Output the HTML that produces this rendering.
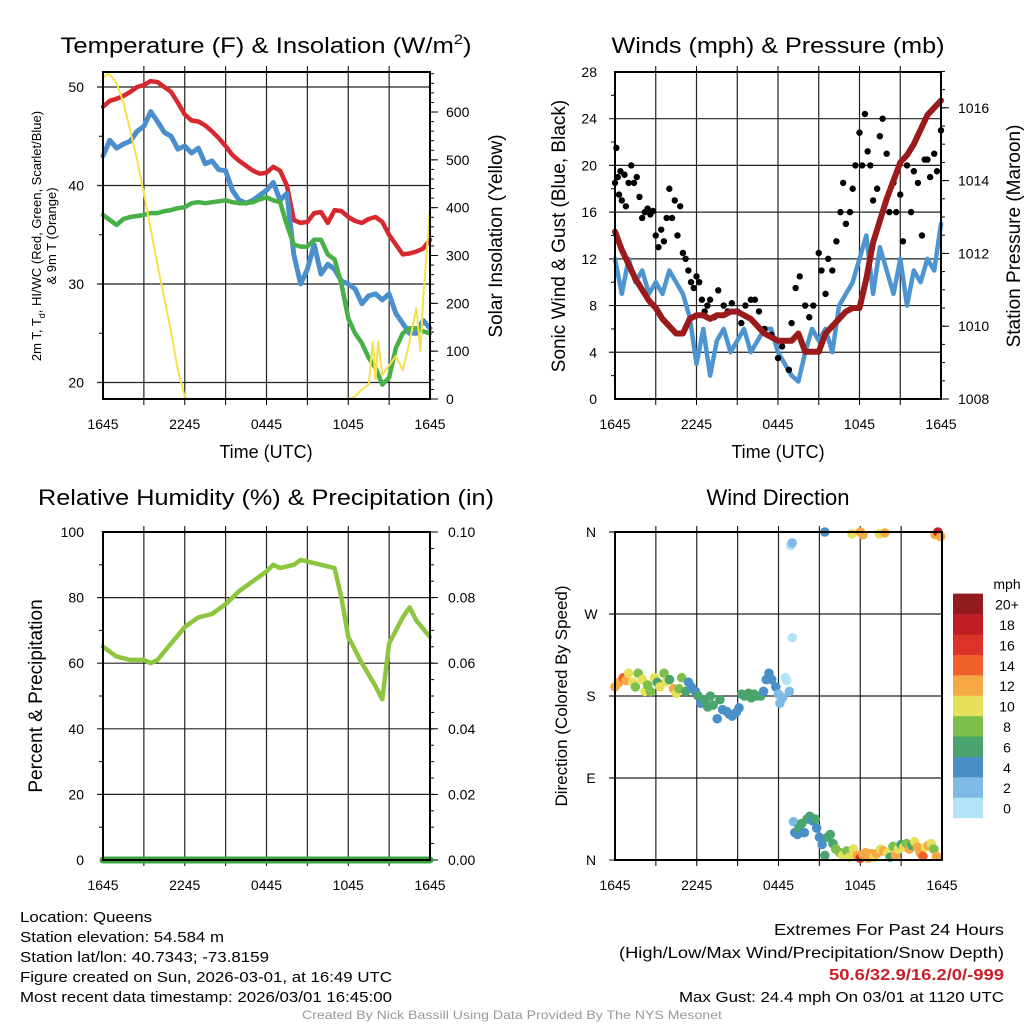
<!DOCTYPE html>
<html><head><meta charset="utf-8"><style>
html,body{margin:0;padding:0;background:#fff}
svg{display:block;font-family:"Liberation Sans",sans-serif}
</style></head><body>
<svg id="s" width="1024" height="1024" viewBox="0 0 1024 1024"></svg>
<script>
// ---------- DATA ----------
const xTickLabels = ["1645","2245","0445","1045","1645"];
const tempHours = [0,0.5,1,1.5,2,2.5,3,3.5,4,4.5,5,5.5,6,6.5,7,7.5,8,8.5,9,9.5,10,10.5,11,11.5,12,12.5,13,13.5,14,14.5,15,15.5,16,16.5,17,17.5,18,18.5,19,19.5,20,20.5,21,21.5,22,22.5,23,23.5,24];
const redTemp = [48,48.6,48.8,49.1,49.5,50,50.2,50.6,50.5,50,49.5,48.4,47.2,46.6,46.5,46.1,45.5,44.8,44,43.1,42.5,42,41.5,41.2,41.3,41.9,41.5,40,36.5,36.2,36.3,37.2,37.3,36.2,37.5,37.4,36.8,36.4,36.2,36.6,36.8,36.3,35,34,33,33.1,33.3,33.6,34.5];
const blueTemp = [43,44.6,43.8,44.2,44.5,45.5,46,47.5,46.5,45.4,45,43.7,44,43.3,43.8,42.2,42.5,41.6,41.5,39.5,38.5,38.2,38.5,39,39.5,40.3,38.5,39.2,33,30,31.5,34,31,32,31.5,30.3,30,29.5,28,28.8,29,28.4,29,27,26,25,25,26.3,25.5];
const greenTemp = [37,36.5,36,36.6,36.8,36.9,37,37.2,37.2,37.4,37.5,37.7,37.8,38.2,38.3,38.2,38.3,38.4,38.5,38.3,38.2,38.2,38.3,38.6,38.8,38.5,38.3,36,34,33.8,33.8,34.5,34.5,33,32.5,30,26.5,25,24,22.5,21.5,19.8,20.5,23.5,25,25.5,25.5,25.2,25];
const solarHours = [0,0.3,0.6,1,1.5,2,2.5,3,3.5,4,4.5,5,5.5,6,6.2,18,18.5,19,19.5,19.8,20,20.2,20.5,21,21.5,22,22.5,23,23.3,23.5,24];
const solar = [670,680,675,660,620,560,500,430,355,280,210,140,60,5,0,0,5,20,30,120,40,120,50,70,90,60,120,190,100,210,400];

const windHours = [0,0.5,1,1.5,2,2.5,3,3.5,4,4.5,5,5.5,6,6.5,7,7.5,8,8.5,9,9.5,10,10.5,11,11.5,12,12.5,13,13.5,14,14.5,15,15.5,16,16.5,17,17.5,18,18.5,19,19.5,20,20.5,21,21.5,22,22.5,23,23.5,24];
const sonicWind = [12,9,12,10,11,9,10,9,11,10,9,7,3,6,2,5,6,4,5,6,4,5,6,6,4,3,2,1.5,4,6,5,6,4,8,9,10,12,14,9,13,11,9,12,8,11,10,12,11,15];
const pressure = [1012.6,1012.1,1011.7,1011.3,1011,1010.7,1010.5,1010.2,1010,1009.8,1009.8,1010.2,1010.3,1010.3,1010.2,1010.3,1010.3,1010.4,1010.4,1010.3,1010.2,1010,1009.8,1009.7,1009.6,1009.6,1009.6,1009.8,1009.3,1009.3,1009.3,1009.8,1010,1010.2,1010.4,1010.5,1010.5,1011.3,1012.3,1012.9,1013.5,1014,1014.5,1014.7,1015,1015.4,1015.8,1016,1016.2];
const gustHours = [0,0.1,0.2,0.3,0.4,0.5,0.7,0.8,1,1.2,1.4,1.6,1.8,2,2.2,2.4,2.6,2.8,3,3.2,3.4,3.6,3.8,4,4.2,4.4,4.6,4.8,5,5.2,5.4,5.6,5.8,6,6.2,6.4,6.6,6.8,7,7.3,7.6,8,8.3,8.6,9,9.3,9.6,10,10.3,10.6,11,11.5,12,12.3,12.8,13,13.3,13.6,14,14.3,14.6,15,15.2,15.5,15.7,16,16.3,16.6,16.8,17,17.3,17.5,17.7,18,18.2,18.4,18.6,18.8,19,19.3,19.5,19.7,20,20.2,20.5,20.7,21,21.2,21.5,21.8,22,22.3,22.6,22.8,23,23.2,23.5,23.7,24];
const gusts = [18.5,21.5,19,17.5,19.5,17,19.2,16.5,18.5,20,18.5,19,17.3,15.5,16,16.3,15.8,16.1,14,13,14.5,13.5,15.5,18,15.5,17,14,16.5,12.5,12,11,10,9.5,10.5,10,8.5,7.5,8,8.5,7,9.3,8,7.5,8.2,7.5,6.5,8,8.5,8.5,7.5,6,5.5,3.5,4.5,2.5,6.5,9.5,10.5,8,7,8,12.5,11,9,12,11,13.5,16,18.5,15,16,18,20,22.8,20,24.4,21.2,20,17,18,22.5,24,21,16,18.5,16,17.5,13.5,20,16,19.5,18.5,14,20.5,20.5,19,21,19.5,23];

const rhHours = [0,1,2,3,3.5,4,5,6,7,8,9,10,11,12,12.5,13,14,14.5,15,16,17,17.5,18,19,20,20.5,21,22,22.5,23,24];
const humidity = [65,62,61,61,60,61,66,71,74,75,78,82,85,88,90,89,90,91.5,91,90,89,80,68,60,53,49,66,74,77,73,68];
const precip = [0,0];
const precipHours = [0,24];

const dirHours = [0,0.3,0.6,0.8,1,1.3,1.5,1.7,2,2.2,2.4,2.6,2.9,3.1,3.3,3.6,3.8,4,4.3,4.5,4.7,4.9,5.2,5.4,5.6,5.9,6.1,6.3,6.6,6.8,7,7.2,7.5,7.7,7.9,8.2,8.4,8.6,8.9,9.1,9.3,9.5,9.8,10,10.2,10.4,10.7,10.9,11.1,11.3,11.5,11.8,12,12.1,12.3,12.5,12.6,12.8,12.9,13,13,13.1,13.2,13.4,13.5,13.7,13.9,14.1,14.3,14.5,14.7,14.8,15,15.2,15.4,15.6,15.8,16,16.2,16.5,16.7,17,17.2,17.5,17.8,18,18.2,18.4,18.6,18.8,19,19.2,19.5,19.7,20,20.2,20.4,20.6,20.8,21,21.2,21.4,21.6,21.8,22,22.2,22.4,22.6,22.8,23,23.2,23.4,23.6,15.4,17.4,18,18.2,19.4,19.8,23.5,23.7,23.9];
const dirDeg = [190,195,200,197,205,195,190,205,198,185,192,185,200,195,190,205,196,198,188,183,188,200,185,195,190,185,180,172,175,168,180,170,155,176,165,163,160,158,162,167,182,180,183,178,182,180,180,185,198,205,198,190,182,172,178,200,197,185,345,348,244,42,30,28,35,40,30,45,48,43,45,35,25,17,5,25,28,18,12,8,5,10,3,12,5,2,6,8,2,7,3,7,12,10,8,3,15,5,12,17,14,18,12,16,20,14,8,4,14,16,18,12,4,360,358,360,357,358,359,357,360,355];
const dirSpeed = [12,13,14,12,10,11,9,8,10,10,9,8,10,7,10,8,10,6,13,10,9,8,6,5,5,4,7,4,6,6,6,7,4,6,5,4,4,4,4,4,6,6,6,6,7,6,6,4,4,4,4,4,3,2,2,1,1,2,1,2,1,2,4,4,6,6,5,6,6,4,6,5,4,4,6,6,6,7,8,9,10,8,11,10,13,16,12,13,12,13,10,12,10,12,10,7,8,12,10,7,11,8,12,7,10,12,12,14,10,12,10,9,12,4,10,12,12,10,12,12,18,13];
const speedLabels = ["0","2","4","6","8","10","12","14","16","18","20+"];
const speedColors = ["#b3e3f7","#7fbae5","#4a90c8","#4aa46d","#7cc04b","#e6e05a","#f5a843","#ef6128","#dd3229","#bf1e26","#931a1d"];

// ---------- DRAW HELPERS ----------
const NS="http://www.w3.org/2000/svg", S=document.getElementById('s');
function el(tag, attrs, parent, txt){const e=document.createElementNS(NS,tag);for(const k in attrs)e.setAttribute(k,attrs[k]);if(txt!==undefined)e.textContent=txt;(parent||S).appendChild(e);return e;}
function txt(x,y,s,size,anchor,extra){const t=el('text',Object.assign({x:x,y:y,'font-size':size,'text-anchor':anchor||'middle',fill:'#000'},extra||{}),S,s);return t;}
function panel(L,R,T,B){return {L,R,T,B,x:h=>L+(R-L)*h/24};}
function frame(p,name,hGridVals,yfn){
  const g=el('g',{});
  
  
  for(let i=1;i<8;i++){const x=p.x(i*3);el('line',{x1:x,x2:x,y1:p.T,y2:p.B,stroke:'#222','stroke-width':1.2},g);
    el('line',{x1:x,x2:x,y1:p.T-6,y2:p.T,stroke:'#000','stroke-width':1},g);
    el('line',{x1:x,x2:x,y1:p.B,y2:p.B+6,stroke:'#000','stroke-width':1},g);}
  hGridVals.forEach(v=>{const y=yfn(v);el('line',{x1:p.L-6,x2:p.R,y1:y,y2:y,stroke:'#222','stroke-width':1.2},g);});
  return g;
}
function border(p,name){const r=el('rect',{x:p.L,y:p.T,width:p.R-p.L,height:p.B-p.T,fill:'none',stroke:'#000','stroke-width':2});
  }
function xlabels(p,name){xTickLabels.forEach((s,i)=>{const t=txt(p.x(i*6),p.B+30,s,14);});}
function path(p,hs,vs,yfn,color,w,name){let d='';hs.forEach((h,i)=>{d+=(i?'L':'M')+p.x(h).toFixed(1)+','+yfn(vs[i]).toFixed(1);});
  const e=el('path',{d:d,fill:'none',stroke:color,'stroke-width':w,'stroke-linejoin':'round','stroke-linecap':'round'});
  return e;}
function rightMinor(p,yfn,vals){vals.forEach(v=>{const y=yfn(v);el('line',{x1:p.R,x2:p.R+4,y1:y,y2:y,stroke:'#000','stroke-width':1});});}

// ---------- PANEL 1: TEMPERATURE ----------
{
const p=panel(103,430,72,399);
const yT=v=>87+(50-v)*9.85, yS=v=>399-v*0.4783;
frame(p,'temperature',[20,30,40,50],yT);
[20,30,40,50].forEach(v=>{const t=txt(84,yT(v)+5,String(v),14,'end');});
for(let v=25;v<=45;v+=10){el('line',{x1:p.L-4,x2:p.L,y1:yT(v),y2:yT(v),stroke:'#000'});}
const mv=[];for(let v=0;v<=680;v+=20)mv.push(v);rightMinor(p,yS,mv);
[0,100,200,300,400,500,600].forEach(v=>{el('line',{x1:p.R,x2:p.R+8,y1:yS(v),y2:yS(v),stroke:'#000'});const t=txt(446,yS(v)+5,String(v),14,'start');});
path(p,tempHours,redTemp,yT,'#d7282f',4.5,'red-temperature-line');
path(p,tempHours,blueTemp,yT,'#4a8fcc',5,'blue-temperature-line');
path(p,tempHours,greenTemp,yT,'#47b048',4.5,'green-dewpoint-line');
path(p,solarHours,solar,yS,'#f8e04a',2,'yellow-solar-line');
border(p,'temperature');xlabels(p,'temperature');
let t=el('text',{x:266,y:53,'font-size':22,'text-anchor':'middle',textLength:411,lengthAdjust:'spacingAndGlyphs'},S);
t.innerHTML='Temperature (F) &amp; Insolation (W/m<tspan dy="-9" font-size="14">2</tspan><tspan dy="9">)</tspan>';

t=txt(266,458,'Time (UTC)',18);
const g=el('g',{transform:'translate(0,0)'});
t=el('text',{x:0,y:0,'font-size':13,'text-anchor':'middle',transform:'translate(41,236) rotate(-90)'},g);t.innerHTML='2m T, T<tspan dy="4" font-size="9">d</tspan><tspan dy="-4">, HI/WC (Red, Green, Scarlet/Blue)</tspan>';
el('text',{x:0,y:0,'font-size':13,'text-anchor':'middle',transform:'translate(56,236) rotate(-90)'},g,'& 9m T (Orange)');
t=el('text',{x:0,y:0,'font-size':19,'text-anchor':'middle',transform:'translate(502,236) rotate(-90)'},S,'Solar Insolation (Yellow)');
}
// ---------- PANEL 2: WINDS ----------
{
const p=panel(615,941,72,399);
const yW=v=>399-v*11.68, yP=v=>399-(v-1008)*36.4;
frame(p,'winds',[4,8,12,16,20,24],yW);
[0,4,8,12,16,20,24,28].forEach(v=>{const t=txt(597,yW(v)+5,String(v),14,'end');});
for(let v=2;v<28;v+=4){el('line',{x1:p.L-4,x2:p.L,y1:yW(v),y2:yW(v),stroke:'#000'});}
const mv=[];for(let v=1008;v<=1017;v+=0.5)mv.push(v);rightMinor(p,yP,mv);
[1008,1010,1012,1014,1016].forEach(v=>{el('line',{x1:p.R,x2:p.R+8,y1:yP(v),y2:yP(v),stroke:'#000'});const t=txt(958,yP(v)+5,String(v),14,'start');});
path(p,windHours,sonicWind,yW,'#4d95d0',4.5,'sonic-wind-line');
gustHours.forEach((h,i)=>{const c=el('circle',{cx:p.x(h),cy:yW(gusts[i]),r:3.2,fill:'#000'});});
path(p,windHours,pressure,yP,'#9b1a1c',6,'pressure-line');
border(p,'winds');xlabels(p,'winds');
let t=txt(778,53,'Winds (mph) & Pressure (mb)',22,'middle',{textLength:333,lengthAdjust:'spacingAndGlyphs'});
t=txt(778,458,'Time (UTC)',18);
t=el('text',{x:0,y:0,'font-size':19,'text-anchor':'middle',transform:'translate(565,236) rotate(-90)'},S,'Sonic Wind & Gust (Blue, Black)');
t=el('text',{x:0,y:0,'font-size':19,'text-anchor':'middle',transform:'translate(1020,236) rotate(-90)'},S,'Station Pressure (Maroon)');
}
// ---------- PANEL 3: HUMIDITY ----------
{
const p=panel(103,430,532,860);
const yH=v=>860-v*3.28, yR=v=>860-v*3280;
frame(p,'humidity',[20,40,60,80],yH);
[0,20,40,60,80,100].forEach(v=>{const t=txt(84,yH(v)+5,String(v),14,'end');});
for(let v=10;v<100;v+=20){el('line',{x1:p.L-4,x2:p.L,y1:yH(v),y2:yH(v),stroke:'#000'});}
const mv=[];for(let v=0;v<=0.1001;v+=0.005)mv.push(v);rightMinor(p,yR,mv);
[0,0.02,0.04,0.06,0.08,0.1].forEach(v=>{el('line',{x1:p.R,x2:p.R+8,y1:yR(v),y2:yR(v),stroke:'#000'});const t=txt(448,yR(v)+5,v.toFixed(2),14,'start');});
path(p,precipHours,precip,yR,'#3aa23f',7,'precipitation-line');
path(p,rhHours,humidity,yH,'#8cc63f',4.5,'humidity-line');
border(p,'humidity');xlabels(p,'humidity');
let t=txt(266,505,'Relative Humidity (%) & Precipitation (in)',22,'middle',{textLength:456,lengthAdjust:'spacingAndGlyphs'});
t=el('text',{x:0,y:0,'font-size':19,'text-anchor':'middle',transform:'translate(42,696) rotate(-90)'},S,'Percent & Precipitation');
}
// ---------- PANEL 4: WIND DIRECTION ----------
{
const p=panel(615,942,532,860);
const yD=v=>860-v*0.9111;
frame(p,'direction',[90,180,270,360],yD);
el('line',{x1:p.L-6,x2:p.R,y1:yD(0),y2:yD(0),stroke:'#222'});
[['N',0],['E',90],['S',180],['W',270],['N',360]].forEach(a=>{const t=txt(591,yD(a[1])+5,a[0],14,'middle');});
dirHours.forEach((h,i)=>{const k=Math.min(10,Math.floor(dirSpeed[i]/2));const c=el('circle',{cx:p.x(h),cy:yD(dirDeg[i]),r:4.8,fill:speedColors[k]});});
border(p,'direction');xlabels(p,'direction');
let t=txt(778,505,'Wind Direction',22);
t=el('text',{x:0,y:0,'font-size':17,'text-anchor':'middle',transform:'translate(567,696) rotate(-90)'},S,'Direction (Colored By Speed)');
const lg=el('g',{});
speedColors.forEach((c,i)=>{const y=818-(i+1)*20.4;el('rect',{x:953,y:y,width:30,height:20.6,fill:c},lg);
  el('text',{x:1007,y:y+16,'font-size':14,'text-anchor':'middle'},lg,speedLabels[i]);});
el('text',{x:1007,y:589,'font-size':14,'text-anchor':'middle'},lg,'mph');
}
// ---------- FOOTER ----------
const left=[['Location: Queens',132],['Station elevation: 54.584 m',204],['Station lat/lon: 40.7343; -73.8159',249],['Figure created on Sun, 2026-03-01, at 16:49 UTC',372],['Most recent data timestamp: 2026/03/01 16:45:00',372]];
left.forEach((a,i)=>{const t=txt(20,922+i*20,a[0],15,'start',{textLength:a[1],lengthAdjust:'spacingAndGlyphs'});});
let ft=txt(1004,935,'Extremes For Past 24 Hours',16,'end',{textLength:230,lengthAdjust:'spacingAndGlyphs'});
ft=txt(1004,958,'(High/Low/Max Wind/Precipitation/Snow Depth)',16,'end',{textLength:385,lengthAdjust:'spacingAndGlyphs'});
ft=txt(1004,980,'50.6/32.9/16.2/0/-999',16,'end',{fill:'#c8202a','font-weight':'bold',textLength:175,lengthAdjust:'spacingAndGlyphs'});
ft=txt(1004,1002,'Max Gust: 24.4 mph On 03/01 at 1120 UTC',15,'end',{textLength:325,lengthAdjust:'spacingAndGlyphs'});
ft=txt(512,1019,'Created By Nick Bassill Using Data Provided By The NYS Mesonet',12,'middle',{fill:'#999',textLength:420,lengthAdjust:'spacingAndGlyphs'});
</script>
</body></html>
